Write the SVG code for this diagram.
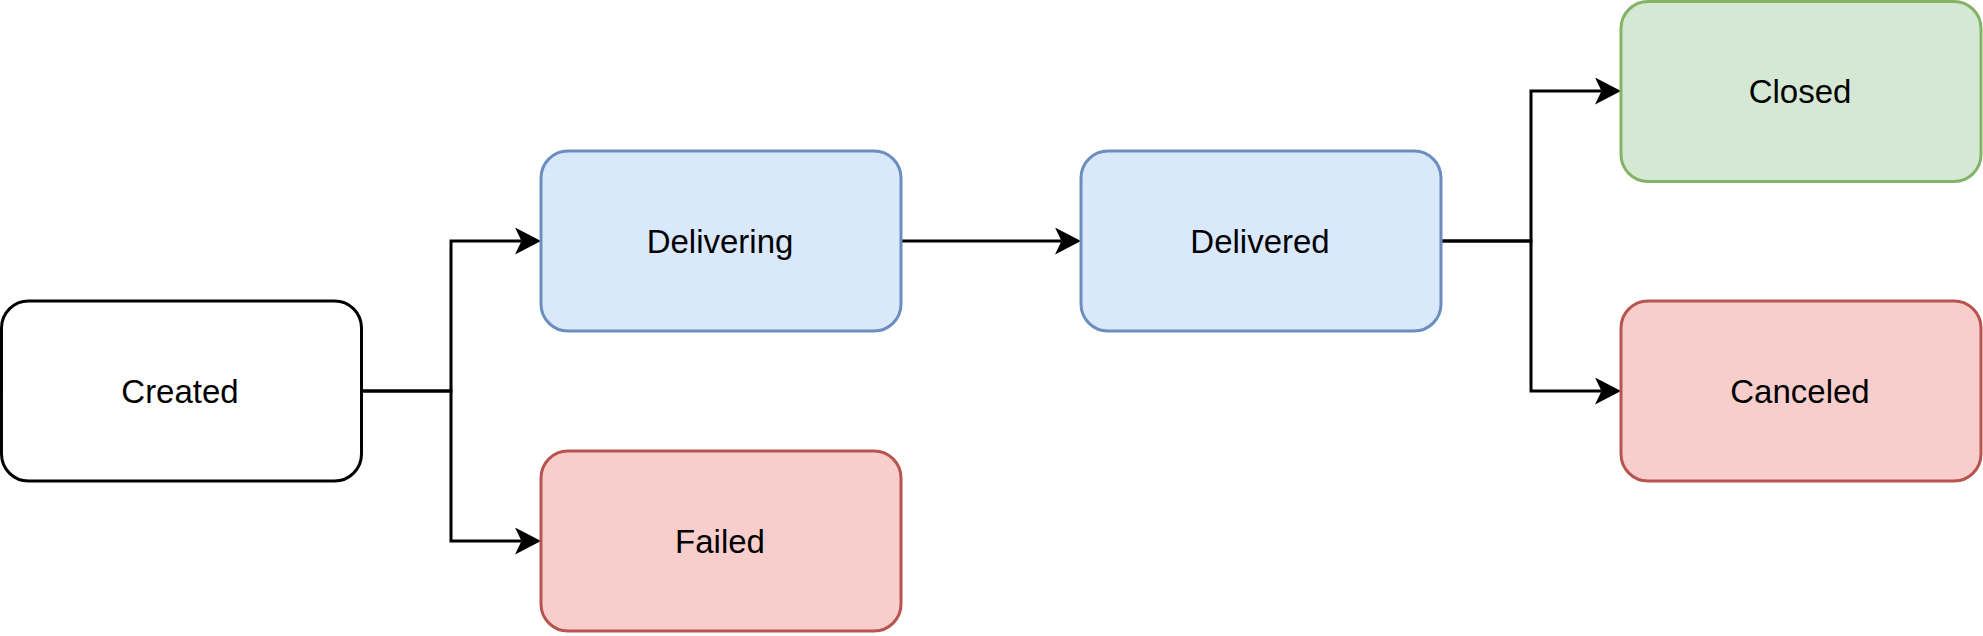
<svg xmlns="http://www.w3.org/2000/svg" width="1983" height="636" viewBox="0 0 1983 636">
<style>
.node{stroke-width:3}
.plain{fill:#ffffff;stroke:#000000}
.blue{fill:#dae8fc;stroke:#6c8ebf}
.red{fill:#f8cecc;stroke:#b85450}
.green{fill:#d5e8d4;stroke:#82b366}
.lbl{font-family:"Liberation Sans",Arial,sans-serif;font-size:33px;fill:#000;text-anchor:middle}
.edge{fill:none;stroke:#000;stroke-width:3;marker-end:url(#arr)}
</style>
<defs>
<marker id="arr" viewBox="0 0 26 27" refX="6.5" refY="13.5" markerWidth="26" markerHeight="27" markerUnits="userSpaceOnUse" orient="auto">
<path d="M0,0 L26,13.5 L0,27 L6.5,13.5 Z" fill="#000"/>
</marker>
</defs>
<g id="connectors">
<path class="edge" d="M361,391 H451 V241 H521.5"/>
<path class="edge" d="M361,391 H451 V541 H521.5"/>
<path class="edge" d="M901,241 H1061.5"/>
<path class="edge" d="M1441,241 H1531 V91 H1601.5"/>
<path class="edge" d="M1441,241 H1531 V391 H1601.5"/>
</g>
<g id="created"><rect class="node plain" x="1.5" y="301" width="360" height="180" rx="27"/><text class="lbl" x="180" y="402.5">Created</text></g>
<g id="delivering"><rect class="node blue" x="541" y="151" width="360" height="180" rx="27"/><text class="lbl" x="720" y="252.5">Delivering</text></g>
<g id="failed"><rect class="node red" x="541" y="451" width="360" height="180" rx="27"/><text class="lbl" x="720" y="552.5">Failed</text></g>
<g id="delivered"><rect class="node blue" x="1081" y="151" width="360" height="180" rx="27"/><text class="lbl" x="1260" y="252.5">Delivered</text></g>
<g id="closed"><rect class="node green" x="1621" y="1.5" width="360" height="180" rx="27"/><text class="lbl" x="1800" y="102.5">Closed</text></g>
<g id="canceled"><rect class="node red" x="1621" y="301" width="360" height="180" rx="27"/><text class="lbl" x="1800" y="402.5">Canceled</text></g>
</svg>
